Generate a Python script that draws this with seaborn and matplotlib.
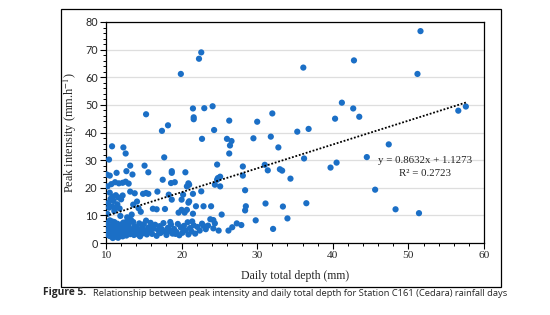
import numpy as np
import pandas as pd
import matplotlib
matplotlib.use("Agg")
import matplotlib.pyplot as plt
from matplotlib.patches import Rectangle
from matplotlib.ticker import MultipleLocator
import seaborn as sns

# sparse / high points
depth_high = [51.6, 22.6, 22.3, 42.8, 36.1, 19.9, 51.2, 41.2, 24.1, 57.6,
              23.0, 21.5, 42.7, 56.6, 32.0, 15.3, 43.5, 21.6, 40.3, 21.6,
              26.3, 30.0, 18.2, 36.8, 24.3, 17.4, 35.3, 31.8, 29.5, 22.7,
              26.0, 26.6, 47.4, 26.4, 10.8, 32.8, 12.3]
peak_high = [76.7, 69.0, 66.7, 66.1, 63.5, 61.2, 61.2, 50.8, 49.5, 49.4,
             48.8, 48.7, 48.7, 47.9, 46.9, 46.6, 45.7, 45.5, 45.0, 44.8,
             44.3, 43.9, 42.6, 41.3, 40.9, 40.6, 40.3, 38.5, 37.9, 37.7,
             37.7, 36.9, 35.7, 35.3, 35.0, 34.6, 34.6]

# middle band
depth_mid = [26.3, 12.6, 44.5, 17.7, 36.2, 10.4, 40.5, 24.7, 31.0, 13.2,
             15.1, 28.1, 39.7, 33.0, 31.4, 33.3, 12.7, 18.7, 15.6, 20.5,
             18.7, 11.4, 10.1, 13.5, 10.5, 28.1, 25.1, 24.8, 34.4, 17.5,
             24.7, 19.1, 18.6, 20.9, 24.4, 21.0, 25.1, 20.7, 45.6, 28.4,
             22.6, 16.8, 15.3, 15.6, 21.5, 20.2, 18.3, 20.0, 18.7, 21.0,
             20.9, 36.5, 31.1, 21.9, 22.9, 23.9, 28.5, 33.4, 48.3, 28.4,
             51.4, 21.5, 25.3, 34.0, 29.8, 32.1]
peak_mid = [32.4, 32.4, 31.1, 31.0, 30.6, 30.2, 29.1, 28.4, 28.3, 28.0,
            28.0, 27.7, 27.3, 26.7, 26.3, 26.2, 26.0, 26.0, 25.6, 25.6,
            25.4, 25.4, 24.8, 24.8, 24.4, 24.4, 24.0, 23.5, 23.3, 22.9,
            22.9, 22.0, 21.7, 21.6, 21.1, 21.1, 20.5, 20.5, 19.3, 19.1,
            18.7, 18.6, 18.1, 17.8, 17.8, 17.5, 17.5, 15.7, 15.7, 15.1,
            14.6, 14.4, 14.3, 13.3, 13.3, 13.3, 13.3, 13.2, 12.2, 11.8,
            10.8, 10.6, 10.3, 8.9, 8.2, 5.1]

# cluster at the left edge
depth_left = [10.2, 10.4, 10.3, 10.6, 10.8, 10.5, 11.0, 11.1, 11.3, 11.5,
              11.6, 11.8, 12.0, 12.2, 10.2, 10.7, 11.2, 11.7, 12.2, 12.6,
              13.0, 13.2, 13.8, 14.9, 14.1, 14.3, 14.6, 13.4, 12.8, 11.9,
              16.2, 16.7, 17.8, 19.6, 20.4, 20.7, 20.0, 13.6, 10.9, 11.4]
peak_left = [10.5, 12.8, 14.5, 16.0, 13.2, 18.2, 15.2, 11.6, 17.3, 14.0,
             16.5, 12.5, 15.8, 17.2, 20.5, 21.3, 22.0, 21.6, 21.8, 22.2,
             21.5, 18.6, 18.0, 17.8, 15.0, 12.6, 11.3, 10.3, 9.3, 9.8,
             12.4, 12.2, 12.3, 11.0, 11.0, 12.0, 12.0, 13.9, 16.8, 13.0]

# dense low band
depth_low = [10.1, 10.3, 10.4, 10.5, 10.6, 10.7, 10.8, 10.9, 11.0, 11.0,
             11.2, 11.3, 11.4, 11.5, 11.6, 11.7, 11.8, 11.9, 12.0, 12.2,
             12.3, 12.4, 12.6, 12.7, 12.9, 13.0, 13.2, 13.3, 13.5, 13.7,
             13.8, 13.9, 14.1, 14.3, 14.4, 14.6, 14.8, 14.9, 15.0, 15.2,
             15.4, 15.6, 15.8, 15.9, 16.1, 16.3, 16.5, 16.7, 16.9, 17.1,
             17.2, 17.4, 17.6, 17.8, 18.0, 18.2, 18.4, 18.6, 18.8, 19.0,
             19.3, 19.5, 19.7, 19.9, 20.1, 20.3, 20.5, 20.8, 20.9, 21.1,
             21.3, 21.6, 21.8, 22.1, 22.4, 22.7, 23.2, 23.5, 23.8, 24.2,
             24.4, 24.2, 24.9, 26.2, 26.7, 27.3, 27.9,
             10.2, 10.5, 10.8, 11.1, 11.4, 11.7, 12.1, 12.5, 12.8, 13.1,
             13.6, 14.0, 14.5, 15.3, 16.0, 17.0, 18.5, 19.2, 21.4, 22.9]
peak_low = [7.2, 4.5, 6.0, 2.5, 5.2, 3.5, 7.8, 1.8, 4.2, 6.5,
            2.8, 5.5, 3.6, 7.0, 1.9, 4.8, 6.2, 3.0, 5.0, 2.4,
            7.4, 3.8, 5.8, 2.7, 4.4, 6.6, 3.2, 8.4, 4.9, 2.9,
            6.0, 3.9, 5.4, 3.0, 7.1, 4.3, 5.9, 3.5, 6.8, 4.6,
            3.1, 5.6, 4.0, 7.3, 3.3, 5.2, 6.6, 2.6, 4.7, 6.1,
            3.6, 5.0, 7.2, 4.1, 2.9, 5.5, 4.3, 6.7, 3.4, 5.1,
            4.0, 6.9, 2.8, 5.6, 3.7, 6.2, 4.6, 7.5, 3.1, 5.4,
            4.2, 6.4, 3.4, 5.8, 4.5, 7.0, 5.0, 6.3, 8.6, 8.3,
            7.1, 5.3, 4.5, 4.5, 5.7, 7.1, 6.5,
            3.0, 8.2, 5.8, 7.6, 2.2, 3.4, 6.8, 4.6, 8.0, 5.3,
            7.6, 4.6, 2.4, 8.1, 5.9, 4.4, 7.6, 3.3, 7.8, 6.2]

# linear trend as printed on the chart
slope = 0.8632
intercept = 1.1273
r_squared = 0.2723

df = pd.DataFrame({
    "depth": depth_high + depth_mid + depth_left + depth_low,
    "peak": peak_high + peak_mid + peak_left + peak_low,
})

trend_x = np.array([10, df["depth"].max()])
trend = pd.DataFrame({"depth": trend_x, "peak": slope * trend_x + intercept})

sns.set_theme(style="white")
plt.rcParams["mathtext.fontset"] = "stix"

fig = plt.figure(figsize=(5.5, 3.15), dpi=100)
ax = fig.add_axes([106 / 550, 1 - 243 / 315, 378 / 550, 221 / 315])

sns.scatterplot(data=df, x="depth", y="peak", ax=ax, s=20, color="#1b6fc6",
                edgecolor="none", linewidth=0, zorder=3)
sns.lineplot(data=trend, x="depth", y="peak", ax=ax, color="black",
             linestyle=(0, (1, 1)), linewidth=1.3, zorder=4)

ax.set_xlim(10, 60)
ax.set_ylim(0, 80)
ax.xaxis.set_major_locator(MultipleLocator(10))
ax.xaxis.set_minor_locator(MultipleLocator(2))
ax.yaxis.set_major_locator(MultipleLocator(10))
ax.yaxis.set_minor_locator(MultipleLocator(2))
ax.tick_params(which="major", direction="out", length=4, width=0.8, color="black",
               bottom=True, left=True, pad=2)
ax.tick_params(which="minor", direction="out", length=2, width=0.7, color="black",
               bottom=True, left=True)
ax.grid(axis="y", which="major", color="#dedede", linewidth=0.9, zorder=0)
ax.set_axisbelow(True)
for sp in ax.spines.values():
    sp.set_color("black")
    sp.set_linewidth(0.9)

for lab in ax.get_xticklabels():
    lab.set_fontfamily("Liberation Serif")
    lab.set_fontsize(8.2)
for lab in ax.get_yticklabels():
    lab.set_fontfamily("Lato")
    lab.set_fontsize(7.8)

ax.set_xlabel("Daily total depth (mm)", family="Liberation Serif", fontsize=8.5, labelpad=7)
ax.set_ylabel("Peak intensity (mm.h$^{-1}$)", family="Liberation Serif", fontsize=8.8, labelpad=4)

ax.text(52.2, 30.0, f"y = {slope}x + {intercept}", family="Liberation Serif",
        fontsize=7.8, ha="center", va="center", color="#222222", zorder=5)
ax.text(52.2, 25.2, f"R\u00b2 = {r_squared}", family="Liberation Serif",
        fontsize=7.8, ha="center", va="center", color="#222222", zorder=5)

fig.patches.append(Rectangle((61 / 550, 1 - 287 / 315), 440 / 550, 278 / 315,
                             transform=fig.transFigure, fill=False,
                             edgecolor="black", linewidth=0.9))

fig.text(43 / 550, 1 - 293 / 315, "Figure 5.", family="Open Sans", fontweight="bold",
         fontsize=7.4, ha="left", va="center")
fig.text(93 / 550, 1 - 293 / 315,
         "Relationship between peak intensity and daily total depth for Station C161 (Cedara) rainfall days",
         family="Open Sans", fontsize=6.75, ha="left", va="center")

fig.savefig("out.png", dpi=100)
